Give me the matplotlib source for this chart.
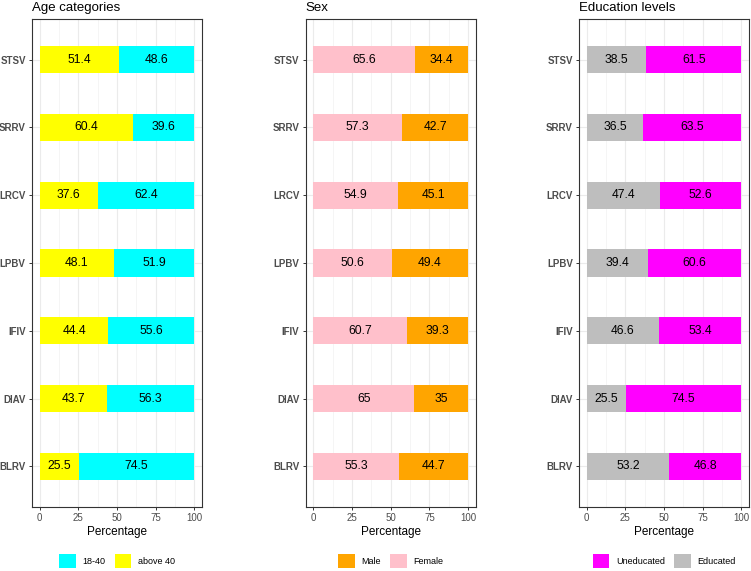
import matplotlib
matplotlib.use("Agg")
import matplotlib.pyplot as plt
from matplotlib.patches import Patch
import numpy as np

plt.rcParams['font.family'] = ['Liberation Sans', 'DejaVu Sans']

viruses = ["BLRV", "DIAV", "IFIV", "LPBV", "LRCV", "SRRV", "STSV"]

age_above40 = [25.5, 43.7, 44.4, 48.1, 37.6, 60.4, 51.4]
age_18_40 = [74.5, 56.3, 55.6, 51.9, 62.4, 39.6, 48.6]

sex_female = [55.3, 65, 60.7, 50.6, 54.9, 57.3, 65.6]
sex_male = [44.7, 35, 39.3, 49.4, 45.1, 42.7, 34.4]

edu_educated = [53.2, 25.5, 46.6, 39.4, 47.4, 36.5, 38.5]
edu_uneducated = [46.8, 74.5, 53.4, 60.6, 52.6, 63.5, 61.5]

x_ticks = [0, 25, 50, 75, 100]

panels = [
    dict(title="Age categories", left_vals=age_above40, right_vals=age_18_40,
         left_col="#FFFF00", right_col="#00FFFF",
         legend=[("18-40", "#00FFFF"), ("above 40", "#FFFF00")],
         px=(32, 202)),
    dict(title="Sex", left_vals=sex_female, right_vals=sex_male,
         left_col="#FFC0CB", right_col="#FFA500",
         legend=[("Male", "#FFA500"), ("Female", "#FFC0CB")],
         px=(305.5, 476)),
    dict(title="Education levels", left_vals=edu_educated, right_vals=edu_uneducated,
         left_col="#BEBEBE", right_col="#FF00FF",
         legend=[("Uneducated", "#FF00FF"), ("Educated", "#BEBEBE")],
         px=(579, 749)),
]

W, H = 751, 571
fig = plt.figure(figsize=(W / 100, H / 100), dpi=100)

top_px, bot_px = 19, 507
for p in panels:
    l, r = p["px"]
    ax = fig.add_axes([l / W, 1 - bot_px / H, (r - l) / W, (bot_px - top_px) / H])
    y = np.arange(1, len(viruses) + 1)
    b1 = ax.barh(y, p["left_vals"], height=0.4, color=p["left_col"], zorder=2)
    b2 = ax.barh(y, p["right_vals"], left=p["left_vals"], height=0.4,
                 color=p["right_col"], zorder=2)
    ax.bar_label(b1, labels=[f"{v:g}" for v in p["left_vals"]], label_type="center",
                 fontsize=8.7, color="black")
    ax.bar_label(b2, labels=[f"{v:g}" for v in p["right_vals"]], label_type="center",
                 fontsize=8.7, color="black")
    ax.set_xlim(-5, 105)
    ax.set_ylim(0.4, len(viruses) + 0.6)
    ax.set_yticks(y)
    ax.set_yticklabels(viruses, fontweight="bold", fontsize=7, color="#4D4D4D")
    ax.set_xticks(x_ticks)
    ax.set_xticklabels([str(t) for t in x_ticks], fontsize=7, color="#4D4D4D")
    ax.set_xticks([12.5, 37.5, 62.5, 87.5], minor=True)
    ax.tick_params(axis="both", which="major", length=2.5, width=0.7, color="#333333", pad=2)
    ax.tick_params(axis="x", which="minor", length=0)
    ax.grid(True, which="major", color="#EBEBEB", linewidth=0.8, zorder=0)
    ax.grid(True, which="minor", axis="x", color="#F2F2F2", linewidth=0.5, zorder=0)
    ax.set_axisbelow(True)
    for s in ax.spines.values():
        s.set_color("#333333")
        s.set_linewidth(0.8)
    ax.set_xlabel("Percentage", fontsize=8.5, color="black", labelpad=2)
    ax.set_title(p["title"], loc="left", fontsize=9.5, pad=6)
    handles = [Patch(facecolor=c, edgecolor="none", label=lab) for lab, c in p["legend"]]
    cx = (l + r) / 2 / W
    fig.legend(handles=handles, loc="center", bbox_to_anchor=(cx, 1 - 561 / H),
               ncol=2, frameon=False, fontsize=6.5, handlelength=1.85, handleheight=1.85,
               handletextpad=0.7, columnspacing=1.0, borderpad=0, borderaxespad=0)

fig.savefig("out.png", dpi=100)
